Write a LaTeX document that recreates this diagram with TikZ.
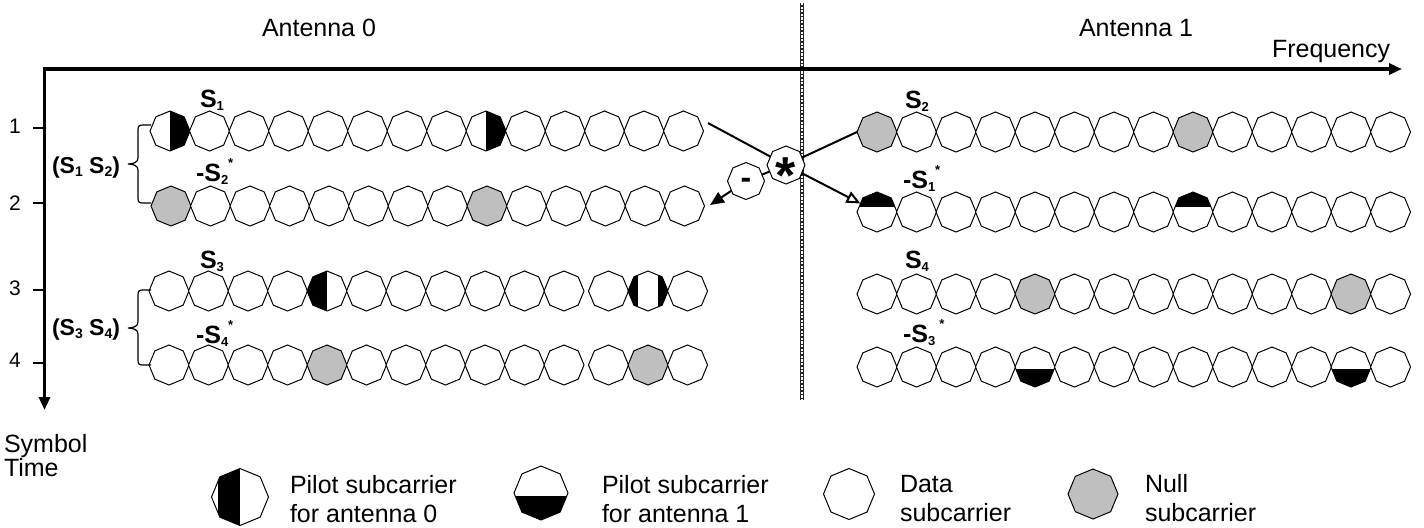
\documentclass[tikz,border=0pt]{standalone}
\usepackage{fontspec}
\setmainfont{Liberation Sans}
\usetikzlibrary{shapes.geometric,arrows.meta,calc}
\newcommand\sbx[1]{\raisebox{-1.5pt}{\fontsize{6.5}{7}\selectfont\bfseries #1}}
\newcommand\sbxb[1]{\raisebox{-1.5pt}{\fontsize{7}{7}\selectfont\bfseries #1}}
\newcommand\stx{\raisebox{7pt}{\fontsize{6.5}{7}\selectfont\bfseries *}}
\newcommand\twoline[2]{\vtop{\hbox{#1}\hbox{#2}}}
\newcommand\octrow[8]{%
  \foreach \i in {0,...,13}{%
    \def\st{data}%
    \ifnum\i=#5\relax\def\st{#4}\fi
    \ifnum\i=#7\relax\def\st{#6}\fi
    \node[\st] (#1-\i) at ({#2+39.5*\i+(\i>10)*#8},#3) {};
  }%
}
\tikzset{
  oct/.style={regular polygon, regular polygon sides=8, shape border rotate=22.5, draw=black, line width=0.5pt, inner sep=0pt, outer sep=0pt},
  data/.style={oct, fill=white, minimum size=20pt},
  null/.style={data, fill=gray!50},
  pR/.style={data, path picture={\fill[black] (path picture bounding box.south) rectangle (path picture bounding box.north east);}},
  pL/.style={data, path picture={\fill[black] (path picture bounding box.south west) rectangle (path picture bounding box.north);}},
  pLR/.style={data, path picture={\fill[black] (path picture bounding box.south west) rectangle ($(path picture bounding box.north west)!0.25!(path picture bounding box.north east)$); \fill[black] ($(path picture bounding box.south west)!0.75!(path picture bounding box.south east)$) rectangle (path picture bounding box.north east);}},
  pT/.style={data, path picture={\fill[black] (path picture bounding box.north west) rectangle ($(path picture bounding box.south east)!0.62!(path picture bounding box.north east)$);}},
  pB/.style={data, path picture={\fill[black] (path picture bounding box.south west) rectangle ($(path picture bounding box.south east)!0.45!(path picture bounding box.north east)$);}},
  pLleg/.style={data, path picture={\fill[black] ($(path picture bounding box.south west)!0.12!(path picture bounding box.south east)$) rectangle (path picture bounding box.north);}},
  txt/.style={font=\fontsize{12.5}{14.5}\selectfont, inner sep=0pt, outer sep=0pt},
  lbl/.style={font=\fontsize{12.5}{14}\selectfont\bfseries, inner sep=0pt, outer sep=0pt, anchor=base west},
  pairlbl/.style={lbl, font=\fontsize{11.5}{13}\selectfont\bfseries},
  axis/.style={line width=1.75pt},
  conn/.style={line width=1pt},
  brc/.style={line width=0.6pt},
  tickln/.style={line width=0.6pt},
}
\begin{document}
\begin{tikzpicture}[x=0.5pt,y=-0.5pt]
\useasboundingbox (0,0) rectangle (1424,527);
% separator
\coordinate (dt) at (802,3);
\coordinate (db) at (802,400);
\draw[line width=1.8pt, black!85] (dt) -- (db);
\draw[line width=0.7pt, white, dash pattern=on 1.1pt off 0.7pt] (dt) -- (db);
% axes
\coordinate (o) at (42.5,69);
\coordinate (fx) at (1402,69);
\coordinate (oy) at (44.5,67.5);
\coordinate (ty) at (44.5,410);
\draw[axis, -{Triangle[length=6.5pt,width=5.5pt]}] (o) -- (fx);
\draw[axis, -{Triangle[length=6.5pt,width=5.5pt]}] (oy) -- (ty);
% row numbers and ticks
\node[txt, font=\fontsize{10.5}{12}\selectfont] (n1) at (15,126) {1};
\node[txt, font=\fontsize{10.5}{12}\selectfont] (n2) at (15,203) {2};
\node[txt, font=\fontsize{10.5}{12}\selectfont] (n3) at (15,288) {3};
\node[txt, font=\fontsize{10.5}{12}\selectfont] (n4) at (15,360) {4};
\draw[tickln] (33,128) -- (44,128);
\draw[tickln] (33,203) -- (44,203);
\draw[tickln] (33,290) -- (44,290);
\draw[tickln] (33,363) -- (44,363);
% titles
\node[txt, anchor=base west] (ant0) at (262,36) {Antenna 0};
\node[txt, anchor=base east] (ant1) at (1193,36) {Antenna 1};
\node[txt, anchor=base west] (freq) at (1272,57) {Frequency};
\node[txt, anchor=base west, font=\fontsize{12.5}{12}\selectfont] (sym) at (4,452) {\twoline{Symbol}{Time}};
% rows
\octrow{L1}{170}{131}{pR}{0}{pR}{8}{0}
\octrow{L2}{171}{206}{null}{0}{null}{8}{0}
\octrow{L3}{169}{291}{pL}{4}{pLR}{12}{5}
\octrow{L4}{169}{365}{null}{4}{null}{12}{5}
\octrow{R1}{877}{132}{null}{0}{null}{8}{0}
\octrow{R2}{877}{212}{pT}{0}{pT}{8}{0}
\octrow{R3}{877}{294}{null}{4}{null}{12}{0}
\octrow{R4}{877}{367}{pB}{4}{pB}{12}{0}
% row labels
\node[lbl] (s1) at (200,107) {S\sbx{1}};
\node[lbl] (s2c) at (196,181) {-S\sbx{2}\stx};
\node[lbl] (s3) at (200,268) {S\sbx{3}};
\node[lbl] (s4c) at (196,343) {-S\sbx{4}\stx};
\node[lbl] (s2) at (905,108) {S\sbx{2}};
\node[lbl] (s1c) at (903,188) {-S\sbx{1}\stx};
\node[lbl] (s4) at (905,268) {S\sbx{4}};
\node[lbl] (s3c) at (903,342) {-S\sbx{3}\,\stx};
% braces
\draw[brc] (151,125) -- (143,125) .. controls (139,125) and (138,126) .. (138,130) -- (138,158) .. controls (138,162) and (134,164) .. (128,164) .. controls (134,164) and (138,166) .. (138,170) -- (138,198) .. controls (138,202) and (139,203) .. (143,203) -- (151,203);
\draw[brc] (151,290) -- (143,290) .. controls (139,290) and (138,291) .. (138,295) -- (138,322) .. controls (138,326) and (134,328) .. (128,328) .. controls (134,328) and (138,330) .. (138,334) -- (138,360) .. controls (138,364) and (139,365) .. (143,365) -- (151,365);
\node[pairlbl] (p12) at (52,173) {(S\sbxb{1} S\sbxb{2})};
\node[pairlbl] (p34) at (52,335) {(S\sbxb{3} S\sbxb{4})};
% star and minus
\node[data, minimum size=19pt] (star) at (786,165) {\fontsize{26}{26}\selectfont\bfseries\smash{\raisebox{-14pt}{*}}};
\node[data, minimum size=18.5pt] (minus) at (746,181) {\fontsize{16}{16}\selectfont\bfseries\smash{\raisebox{-3.5pt}{-}}};
\coordinate (c1) at (708,123);
\coordinate (c2) at (710,205);
\draw[conn] (c1) -- (star);
\draw[conn] (star) -- (R1-0.west);
\draw[conn] (star) -- (minus);
\draw[conn, -{Triangle[length=7pt,width=6pt]}] (minus) -- (c2);
\draw[conn, -{Triangle[open,length=7pt,width=6pt,fill=white]}] (star) -- (R2-0);
% legend
\node[pLleg, minimum size=28.5pt] (lg1) at (240,497) {};
\node[pB, minimum size=27pt] (lg2) at (541,493) {};
\node[data, minimum size=25.5pt] (lg3) at (849,494) {};
\node[null, minimum size=25pt] (lg4) at (1093,494) {};
\node[txt, anchor=base west] (t1) at (290,493) {\twoline{Pilot subcarrier}{for antenna 0}};
\node[txt, anchor=base west] (t2) at (602,493) {\twoline{Pilot subcarrier}{for antenna 1}};
\node[txt, anchor=base west] (t3) at (900,492) {\twoline{Data}{subcarrier}};
\node[txt, anchor=base west] (t4) at (1145,492) {\twoline{Null}{subcarrier}};
\end{tikzpicture}
\end{document}
